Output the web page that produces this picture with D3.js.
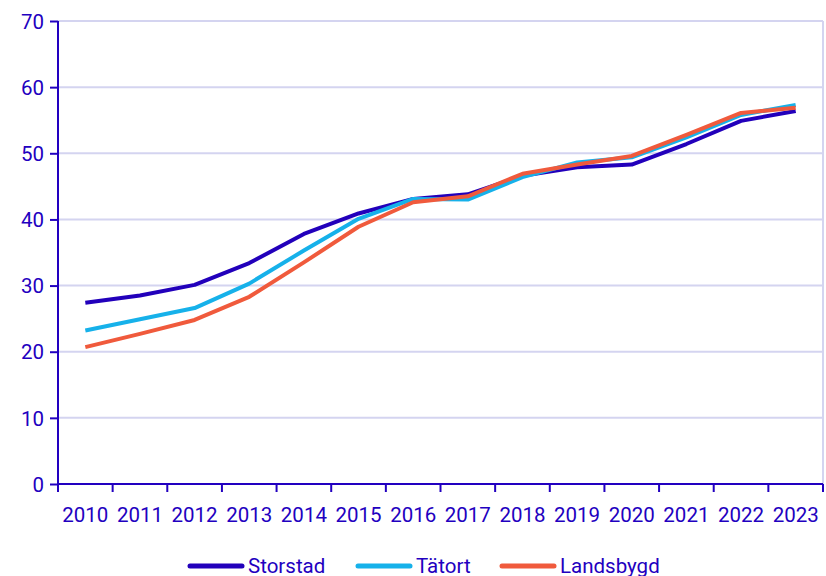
<html>
<head>
<meta charset="utf-8">
<title>Line chart</title>
<style>
  body { margin: 0; background: #fff; }
  text { font-family: Roboto, "Noto Sans", sans-serif; fill: #2200c0; }
  .grid line { stroke: #d4d4f0; stroke-width: 2px; }
  .axis path, .axis line { stroke: #2200c0; stroke-width: 2px; }
  .line { fill: none; stroke-width: 4px; stroke-linejoin: round; }
</style>
</head>
<body>
<script src="https://d3js.org/d3.v7.min.js"></script>
<script>
// data
var years = ["2010","2011","2012","2013","2014","2015","2016","2017","2018","2019","2020","2021","2022","2023"];
var storstad  = [27.4, 28.5, 30.1, 33.4, 37.8, 40.9, 43.1, 43.8, 46.6, 47.9, 48.3, 51.4, 54.9, 56.4];
var tatort    = [23.2, 24.9, 26.6, 30.3, 35.3, 40.1, 43.1, 43.0, 46.4, 48.6, 49.4, 52.4, 55.8, 57.3];
var landsbygd = [20.7, 22.7, 24.8, 28.3, 33.5, 38.9, 42.6, 43.5, 46.9, 48.3, 49.6, 52.8, 56.1, 56.9];
var seriesNames = ["Storstad", "Tätort", "Landsbygd"];
var seriesColors = ["#2200bb", "#16b1ea", "#f05a3c"];
var yTicks = [0, 10, 20, 30, 40, 50, 60, 70];

var series = [storstad, tatort, landsbygd];

var W = 826, H = 576;
var margin = {top: 21, right: 3, bottom: 92, left: 58},
    width = W - margin.left - margin.right,
    height = H - margin.top - margin.bottom;

var svg = d3.select("body").append("svg")
    .attr("width", W).attr("height", H);
var g = svg.append("g")
    .attr("transform", "translate(" + margin.left + "," + margin.top + ")");

var x = d3.scaleBand().domain(years).range([0, width]);
var y = d3.scaleLinear().domain([0, 70]).range([height, 0]);

// gridlines
g.append("g").attr("class", "grid")
  .selectAll("line").data(yTicks.slice(1)).enter().append("line")
    .attr("x1", 0).attr("x2", width)
    .attr("y1", function(d) { return y(d); })
    .attr("y2", function(d) { return y(d); });
g.select(".grid").append("line")
    .attr("x1", width).attr("x2", width)
    .attr("y1", 0).attr("y2", height);

// lines
var line = d3.line()
    .x(function(d, i) { return x(years[i]) + x.bandwidth() / 2; })
    .y(function(d) { return y(d); });

g.selectAll(".line").data(series).enter().append("path")
    .attr("class", "line")
    .attr("stroke", function(d, i) { return seriesColors[i]; })
    .attr("d", line);

// x axis with ticks on band edges
var xAxis = g.append("g").attr("class", "axis")
    .attr("transform", "translate(0," + height + ")");
xAxis.append("line").attr("x1", 0).attr("x2", width);
xAxis.selectAll(".tk").data(d3.range(years.length + 1)).enter().append("line")
    .attr("x1", function(i) { return i * x.step(); })
    .attr("x2", function(i) { return i * x.step(); })
    .attr("y1", 0).attr("y2", 8);
xAxis.selectAll("text").data(years).enter().append("text")
    .attr("x", function(d) { return x(d) + x.bandwidth() / 2; })
    .attr("y", 38)
    .attr("text-anchor", "middle")
    .style("font-size", "20.5px")
    .text(function(d) { return d; });

// y axis
var yAxis = d3.axisLeft(y).tickValues(yTicks).tickSize(8).tickPadding(6);
g.append("g").attr("class", "axis").call(yAxis)
  .call(function(s) {
    s.select(".domain").attr("d", "M0," + height + "V0");
    s.selectAll("text").style("font-size", "20.5px").attr("dy", "0.35em");
  });

// legend
var legX = [190, 358, 502];
var leg = svg.append("g").attr("transform", "translate(0,566)");
seriesNames.forEach(function(name, i) {
  leg.append("line")
    .attr("x1", legX[i]).attr("x2", legX[i] + 52)
    .attr("y1", 0).attr("y2", 0)
    .attr("stroke", seriesColors[i]).attr("stroke-width", 5)
    .attr("stroke-linecap", "round");
  leg.append("text")
    .attr("x", legX[i] + 58).attr("y", 7)
    .style("font-size", "20.5px")
    .text(name);
});
</script>
</body>
</html>
